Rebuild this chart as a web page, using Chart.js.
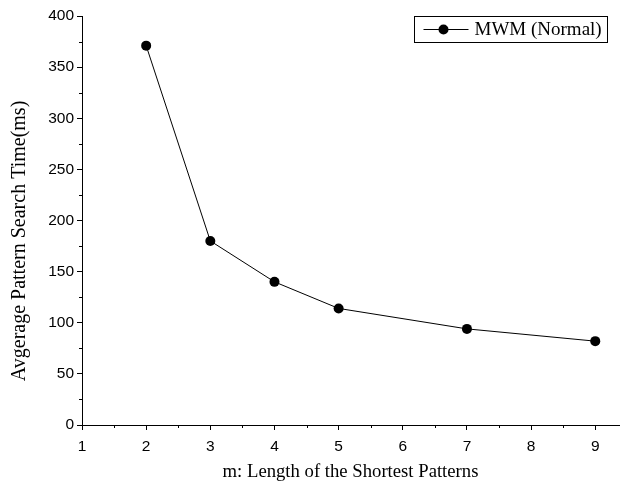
<!DOCTYPE html>
<html>
<head>
<meta charset="utf-8">
<script src="https://cdn.jsdelivr.net/npm/chart.js@4"></script>
<style>
    html, body { margin: 0; padding: 0; background: #fff; }
    #wrap { width: 624px; height: 488px; }
</style>
</head>
<body>
<div id="wrap"><canvas id="chart"></canvas></div>
<script>
const patternLengths = [2, 3, 4, 5, 7, 9];
const searchTimes = [371, 180, 140, 114, 94, 82];
const xTickValues = [1, 2, 3, 4, 5, 6, 7, 8, 9];
const seriesName = 'MWM (Normal)';
const xTitle = 'm: Length of the Shortest Patterns';
const yTitle = 'Avgerage Pattern Search Time(ms)';

let SearchChart = {

    setup: function () {
        Chart.defaults.font.family = '"Liberation Sans", Arial, sans-serif';
        Chart.defaults.color = '#000';
        this.draw();
    },

    // minor ticks in between the major ones, like the original plot
    minorTicks: {
        id: 'minorTicks',
        afterDraw: function (chart) {
            let ctx = chart.ctx, x = chart.scales.x, y = chart.scales.y;
            ctx.save();
            ctx.strokeStyle = '#000';
            ctx.lineWidth = 1;
            ctx.beginPath();
            for (let v = 1.5; v < x.max; v += 1) {
                let px = Math.round(x.getPixelForValue(v)) + 0.5;
                ctx.moveTo(px, x.top);
                ctx.lineTo(px, x.top + 3);
            }
            for (let v = 25; v < y.max; v += 50) {
                let py = Math.round(y.getPixelForValue(v)) + 0.5;
                ctx.moveTo(y.right, py);
                ctx.lineTo(y.right - 3, py);
            }
            ctx.stroke();
            ctx.restore();
        }
    },

    // y title sits a bit below the middle of the axis in the original
    yAxisTitle: {
        id: 'yAxisTitle',
        afterDraw: function (chart) {
            let ctx = chart.ctx, y = chart.scales.y;
            ctx.save();
            ctx.translate(20, y.getPixelForValue(180));
            ctx.rotate(-Math.PI / 2);
            ctx.font = '20px "Liberation Serif", "Times New Roman", serif';
            ctx.fillStyle = '#000';
            ctx.textAlign = 'center';
            ctx.textBaseline = 'middle';
            ctx.fillText(yTitle, 0, 0);
            ctx.restore();
        }
    },

    // boxed legend in the top right corner
    boxLegend: {
        id: 'boxLegend',
        afterDraw: function (chart) {
            let ctx = chart.ctx;
            let left = 414.5, top = 16.5, w = 193, h = 26;
            ctx.save();
            ctx.strokeStyle = '#000';
            ctx.lineWidth = 1;
            ctx.strokeRect(left, top, w, h);
            let cy = top + h / 2;
            ctx.beginPath();
            ctx.moveTo(left + 9, cy);
            ctx.lineTo(left + 54, cy);
            ctx.stroke();
            ctx.beginPath();
            ctx.arc(left + 29, cy, 5, 0, Math.PI * 2);
            ctx.fillStyle = '#000';
            ctx.fill();
            ctx.font = '19px "Liberation Serif", "Times New Roman", serif';
            ctx.textBaseline = 'middle';
            ctx.fillText(seriesName, left + 60, cy + 1);
            ctx.restore();
        }
    },

    draw: function () {
        let ctx = document.getElementById('chart');
        let serif = '"Liberation Serif", "Times New Roman", serif';

        new Chart(ctx, {
            type: 'line',
            data: {
                datasets: [{
                    label: seriesName,
                    data: patternLengths.map(function (m, i) {
                        return { x: m, y: searchTimes[i] };
                    }),
                    borderColor: '#000',
                    borderWidth: 1,
                    backgroundColor: '#000',
                    pointRadius: 5,
                    pointBackgroundColor: '#000',
                    pointBorderWidth: 0,
                    tension: 0
                }]
            },
            options: {
                responsive: true,
                maintainAspectRatio: false,
                animation: false,
                layout: { padding: { top: 16, right: 0, left: 0, bottom: 0 } },
                plugins: {
                    legend: { display: false },
                    tooltip: { enabled: false }
                },
                scales: {
                    x: {
                        type: 'linear',
                        min: 1,
                        max: 9.37,
                        afterBuildTicks: function (scale) {
                            scale.ticks = xTickValues.map(function (v) {
                                return { value: v };
                            });
                        },
                        afterFit: function (scale) {
                            scale.height = 63;
                        },
                        ticks: { font: { size: 15.5 }, padding: 7, maxRotation: 0, autoSkip: false },
                        grid: { drawOnChartArea: false, drawTicks: true, tickLength: 5, color: '#000' },
                        border: { color: '#000', width: 1 },
                        title: { display: true, text: xTitle, font: { family: serif, size: 18.7 }, padding: { top: 4, bottom: 5 } }
                    },
                    y: {
                        min: 0,
                        max: 400,
                        afterFit: function (scale) {
                            scale.width = 82;
                        },
                        ticks: { stepSize: 50, font: { size: 15.5 }, padding: 3 },
                        grid: { drawOnChartArea: false, drawTicks: true, tickLength: 5, color: '#000' },
                        border: { color: '#000', width: 1 },
                        title: { display: false }
                    }
                }
            },
            plugins: [this.minorTicks, this.yAxisTitle, this.boxLegend]
        });
    }
};

SearchChart.setup();
</script>
</body>
</html>
